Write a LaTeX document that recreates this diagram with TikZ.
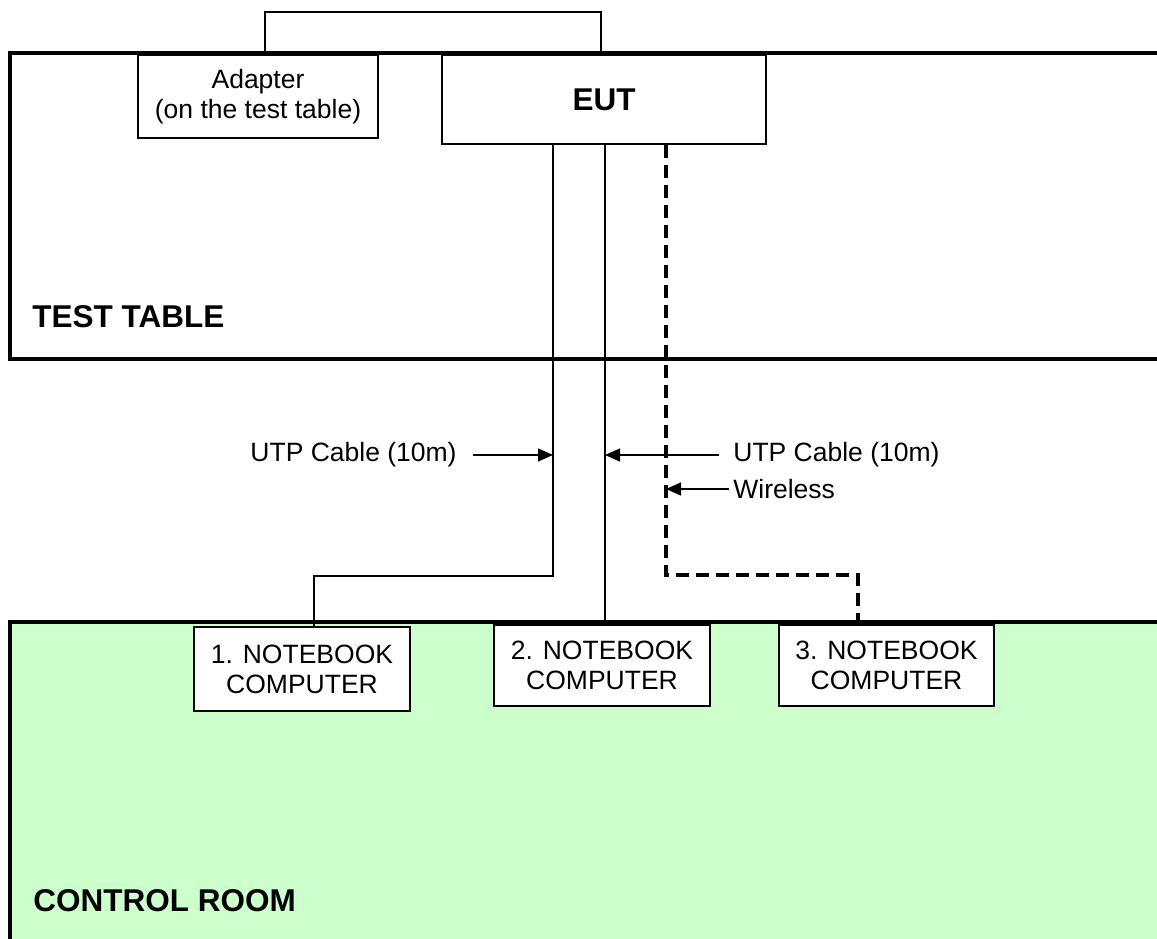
\documentclass[tikz,border=0pt]{standalone}
\usepackage{fontspec}
\setmainfont{Liberation Sans}
\usetikzlibrary{arrows.meta}
\definecolor{roomgreen}{HTML}{CCFFCC}
\begin{document}
\begin{tikzpicture}[x=0.5pt,y=-0.5pt,>={Triangle[length=7.5pt,width=6.5pt]},font=\fontsize{13.25}{15}\selectfont,
		wall/.style={line width=2pt},
		cable/.style={line width=0.7pt},
		radio/.style={line width=1.65pt,dash pattern=on 6.5pt off 3.5pt},
		box/.style={draw,line width=0.8pt,fill=white,align=center,inner sep=0pt},
		title/.style={font=\fontsize{15.75}{18}\selectfont\bfseries,inner sep=0pt}]
		\useasboundingbox (0,0) rectangle (1157,938);
		\clip (0,0) rectangle (1157,938);
		\fill[white] (0,0) rectangle (1157,938);
		\draw[wall] (10,53) rectangle (1180,359);
		\fill[roomgreen] (10,622) rectangle (1180,960);
		\draw[wall] (10,960)--(10,622)--(1180,622);
		\coordinate (brL) at (265,12);
		\coordinate (brR) at (601,12);
		\coordinate (c1) at (553,0);
		\coordinate (c2) at (605,0);
		\coordinate (c3) at (666,0);
		\coordinate (k1) at (314,576);
		\coordinate (k3) at (858,575);
		\node[box,minimum width=120pt,minimum height=41.5pt] (adp) at (258,96.5) {Adapter\\(on the test table)};
		\node[box,title,minimum width=162pt,minimum height=44.5pt] (eut) at (604,99.5) {EUT};
		\node[box,minimum width=108pt,minimum height=42pt] (nb1) at (302,669) {1. NOTEBOOK\\COMPUTER};
		\node[box,minimum width=108pt,minimum height=40.5pt] (nb2) at (602,665.5) {2. NOTEBOOK\\COMPUTER};
		\node[box,minimum width=107.5pt,minimum height=40.5pt] (nb3) at (886.5,665.5) {3. NOTEBOOK\\COMPUTER};
		\draw[cable] (adp.north -| brL)--(brL)--(brR)--(eut.north -| brR);
		\draw[cable] (eut.south -| c1) |- (k1)--(nb1.north -| k1);
		\draw[cable] (eut.south -| c2)--(nb2.north -| c2);
		\draw[radio] (eut.south -| c3) |- (k3)--(nb3.north -| k3);
		\node[anchor=east,inner sep=0pt] (utp1) at (457,455) {UTP Cable (10m)};
		\draw[->,cable] ([xshift=8pt]utp1.east)--(utp1.east -| c1);
		\node[anchor=west,inner sep=0pt] (utp2) at (733,455) {UTP Cable (10m)};
		\draw[->,cable] ([xshift=-7pt]utp2.west)--(utp2.west -| c2);
		\node[anchor=west,inner sep=0pt] (wls) at (733,489) {Wireless};
		\draw[->,cable] ([xshift=-2pt]wls.west)--(wls.west -| c3);
		\node[title,anchor=base west] (tbl) at (32,327) {TEST TABLE};
		\node[title,anchor=base west] (room) at (33,911) {CONTROL ROOM};
	\end{tikzpicture}
\end{document}
